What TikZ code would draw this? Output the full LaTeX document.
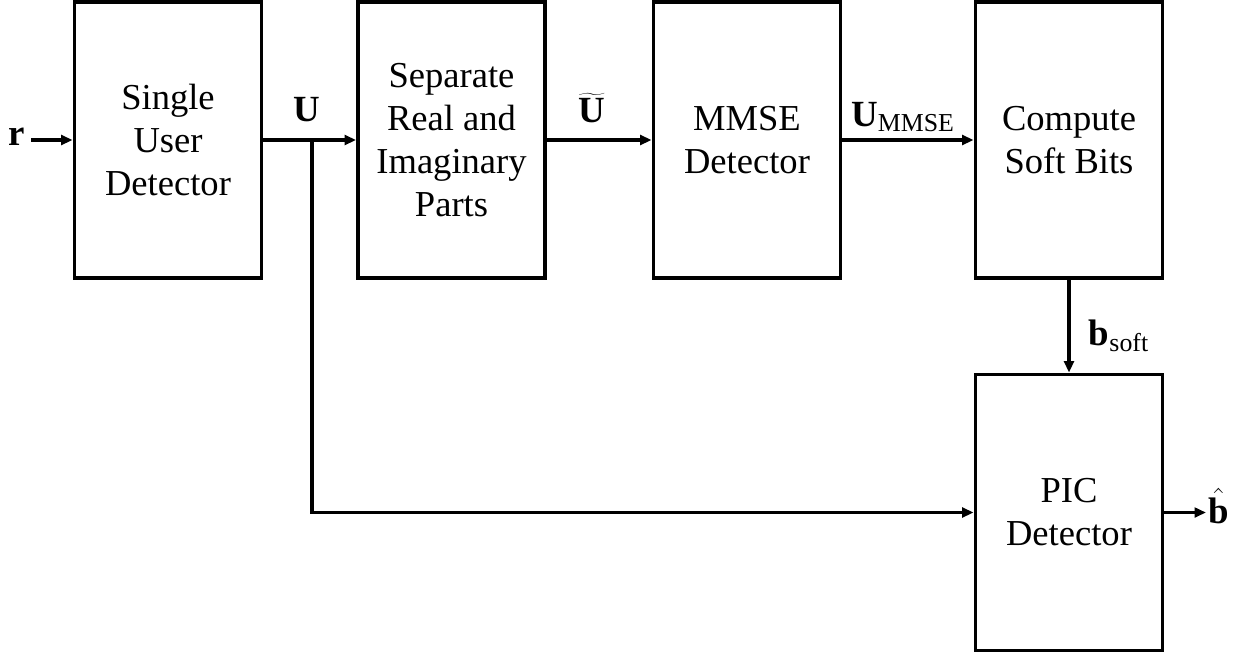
\documentclass[tikz,border=0pt]{standalone}
\usepackage{fontspec}
\setmainfont{Liberation Serif}
\usetikzlibrary{arrows.meta}

\begin{document}
\begin{tikzpicture}[x=0.02cm, y=-0.02cm,
    block/.style={rectangle, draw, line width=2.2pt, minimum width=3.74cm, minimum height=5.52cm, align=center, font=\fontsize{20.8}{24.5}\selectfont},
    lbl/.style={inner sep=1pt, font=\fontsize{21}{24.5}\selectfont},
    arr/.style={-{Triangle[length=6.5pt,width=5.5pt]}, line width=2pt}]
    \useasboundingbox (0,0) rectangle (1247,657);

    % Bloecke
    \node[block] (sud) at (168,140) {Single\\User\\Detector};
    \node[block] (sri) at (451.5,140) {Separate\\Real and\\Imaginary\\Parts};
    \node[block] (mmse) at (747,140) {MMSE\\Detector};
    \node[block] (csb) at (1069,140) {Compute\\Soft Bits};
    \node[block] (pic) at (1069,512.5) {PIC\\Detector};

    % Ein- und Ausgang
    \node[lbl] (r) at (17,137) {$\mathbf{r}$};
    \node[lbl, anchor=west] (bhat) at (1206,506) {$\hat{\mathbf{b}}$};

    % Signale
    \coordinate (br) at (312,140);
    \draw[arr] (r.east) ++(4,3) -- (sud.west);
    \draw[arr] (sud) -- (sri);
    \draw[arr] (br) |- (pic.west);
    \draw[arr] (sri) -- (mmse);
    \draw[arr] (mmse) -- (csb);
    \draw[arr] (csb) -- (pic);
    \draw[arr] (pic.east) -- (pic.east -| bhat.west);

    % Beschriftungen
    \node[lbl] (u) at (307,110) {$\mathbf{U}$};
    \node[lbl] (ut) at (592,108) {$\widetilde{\mathbf{U}}$};
    \node[lbl] (umm) at (903,117) {$\mathbf{U}_{\mathrm{MMSE}}$};
    \node[lbl] (bs) at (1119,336) {$\mathbf{b}_{\mathrm{soft}}$};
\end{tikzpicture}
\end{document}
